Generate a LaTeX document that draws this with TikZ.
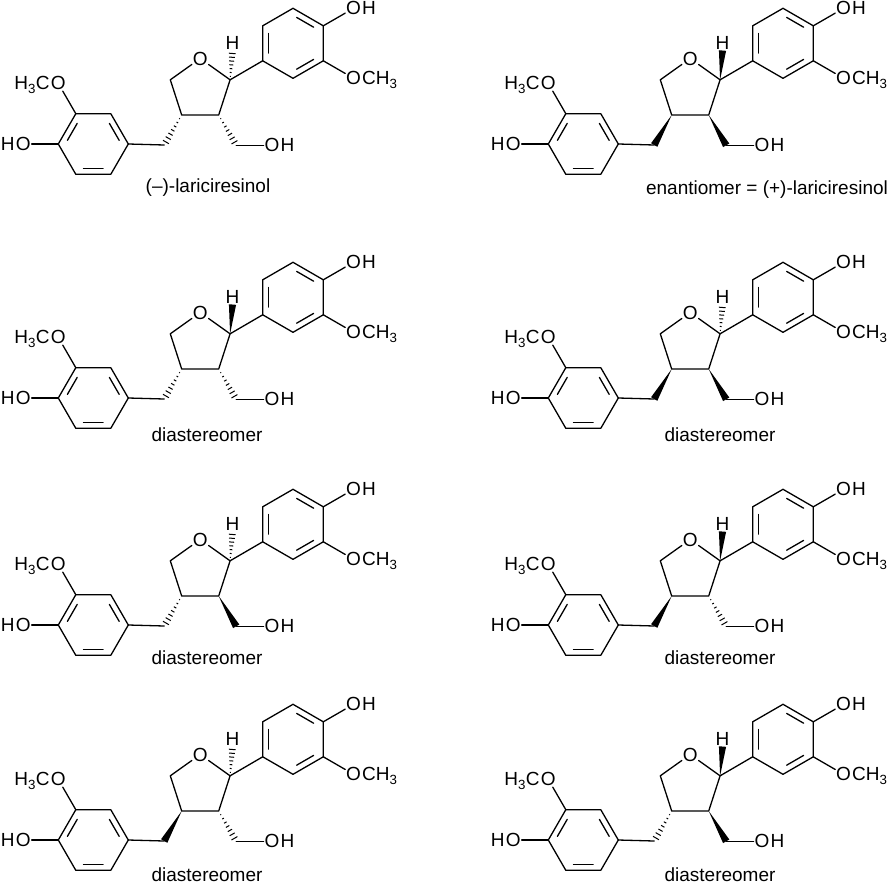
\documentclass[tikz,border=0pt]{standalone}
\usepackage{fontspec}
\setmainfont{Liberation Sans}
\usetikzlibrary{calc}
\tikzset{
  atom/.style={inner sep=0.8pt,font=\fontsize{19}{22}\selectfont},
  lbl/.style={inner sep=0pt,font=\fontsize{19}{22}\selectfont},
  bond/.style={line width=1.3pt,line cap=round}
}
\newcommand\wdg[2]{\fill ($(#1)$) -- ($(#2)!3.6pt!90:(#1)$) -- ($(#2)!3.6pt!-90:(#1)$) -- cycle;}
\newcommand\hsh[2]{\foreach \t in {0.12,0.25,0.38,0.51,0.64,0.77,0.9}{%
  \coordinate (hp) at ($(#1)!\t!(#2)$);
  \draw[line width=1pt] ($(hp)!\t*3.8pt!90:(#2)$) -- ($(hp)!\t*3.8pt!-90:(#2)$);}}
\newcommand\stereo[3]{\if w#1\wdg{#2}{#3}\else\hsh{#2}{#3}\fi}
\newcommand\dbl[3]{\coordinate (da) at ($(#1)!0.15!(#2)$);\coordinate (db) at ($(#1)!0.85!(#2)$);
  \draw[bond] ($(#3)!0.8!(da)$) -- ($(#3)!0.8!(db)$);}
% #1 dx, #2 dy, #3 H, #4 C3 stereo, #5 C4 stereo
\newcommand\molec[5]{%
\begin{scope}[shift={(#1,#2)}]
 \coordinate (Lc) at (93.3,144);
 \coordinate (L1) at (58.3,144); \coordinate (L2) at (75.8,113.7); \coordinate (L3) at (110.8,113.7);
 \coordinate (L4) at (128.3,144); \coordinate (L5) at (110.8,174.3); \coordinate (L6) at (75.8,174.3);
 \coordinate (Rc) at (293,43.3);
 \coordinate (R1) at (293,8.3); \coordinate (R2) at (323.3,25.8); \coordinate (R3) at (323.3,60.8);
 \coordinate (R4) at (293,78.3); \coordinate (R5) at (262.7,60.8); \coordinate (R6) at (262.7,25.8);
 \coordinate (C4) at (181.7,115); \coordinate (C3) at (218.7,115); \coordinate (C2) at (230.1,79.8);
 \coordinate (C5) at (170.3,79.8); \coordinate (CA) at (164.2,145); \coordinate (CB) at (236.2,145.3);
 \node[atom] (Or) at (200.2,58.5) {O};
 \node[atom] (Hn) at (232.5,43) {H};
 \node[atom] (Oa) at (58.3,83.4) {O}; \node[atom,anchor=base east,inner sep=0pt] (Ma) at (Oa.base west) {H\textsubscript{3}C};
 \node[atom] (Ob) at (23.3,144) {O}; \node[atom,anchor=base east,inner sep=0pt] (Hb) at (Ob.base west) {H};
 \node[atom] (Oc) at (353.6,8.3) {O}; \node[atom,anchor=base west,inner sep=0pt] (Hc) at (Oc.base east) {H};
 \node[atom] (Od) at (353.6,78.3) {O}; \node[atom,anchor=base west,inner sep=0pt] (Md) at (Od.base east) {CH\textsubscript{3}};
 \node[atom] (Oe) at (272,145.3) {O}; \node[atom,anchor=base west,inner sep=0pt] (He) at (Oe.base east) {H};
 \draw[bond,line join=round] (L1)--(L2)--(L3)--(L4)--(L5)--(L6)--cycle;
 \draw[bond,line join=round] (R1)--(R2)--(R3)--(R4)--(R5)--(R6)--cycle;
 \dbl{L2}{L1}{Lc}\dbl{L3}{L4}{Lc}\dbl{L6}{L5}{Lc}
 \dbl{R6}{R5}{Rc}\dbl{R1}{R2}{Rc}\dbl{R4}{R3}{Rc}
 \draw[bond] (L2)--(Oa); \draw[bond] (L1)--(Ob); \draw[bond] (R2)--(Oc); \draw[bond] (R3)--(Od);
 \draw[bond] (L4)--(CA); \draw[bond,line join=round] (Or)--(C5)--(C4)--(C3)--(C2)--(Or);
 \draw[bond] (C2)--(R5); \draw[bond] (CB)--(Oe);
 \stereo{#3}{C2}{Hn.south}
 \stereo{#4}{C3}{CB}
 \stereo{#5}{C4}{CA}
\end{scope}}
\begin{document}
\begin{tikzpicture}[x=1pt,y=-1pt]
\useasboundingbox (0,0) rectangle (894,886);
\molec{0}{0}{h}{h}{h}
\molec{490}{0}{w}{w}{w}
\molec{0}{254}{w}{h}{h}
\molec{490}{254}{h}{w}{w}
\molec{0}{481}{h}{w}{h}
\molec{490}{481}{w}{h}{w}
\molec{0}{696}{h}{h}{w}
\molec{490}{696}{w}{w}{h}
\node[lbl] (t1) at (208,188) {(–)-lariciresinol};
\node[lbl] (t2) at (767,190) {enantiomer = (+)-lariciresinol};
\node[lbl] (t3) at (207,435) {diastereomer};
\node[lbl] (t4) at (720,435) {diastereomer};
\node[lbl] (t5) at (207,658) {diastereomer};
\node[lbl] (t6) at (720,658) {diastereomer};
\node[lbl] (t7) at (207,875) {diastereomer};
\node[lbl] (t8) at (720,875) {diastereomer};
\end{tikzpicture}
\end{document}
